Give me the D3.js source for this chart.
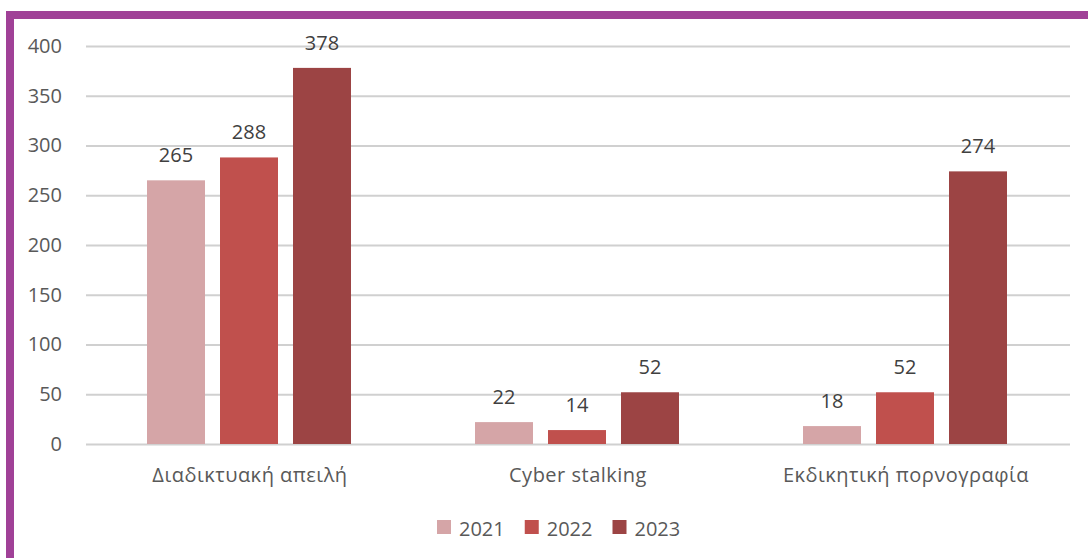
<!DOCTYPE html>
<html><head><meta charset="utf-8">
<script src="https://cdn.jsdelivr.net/npm/d3@7"></script>
<style>body{margin:0;background:#fff;} text{font-family:"Open Sans",sans-serif;}</style>
</head><body>
<svg id="c" width="1088" height="558"></svg>
<script>
const categories = ["Διαδικτυακή απειλή", "Cyber stalking", "Εκδικητική πορνογραφία"];
const seriesNames = ["2021", "2022", "2023"];
const values2021 = [265, 22, 18];
const values2022 = [288, 14, 52];
const values2023 = [378, 52, 274];
const yTicks = [0, 50, 100, 150, 200, 250, 300, 350, 400];
const colors = ["#D5A5A7", "#C0504D", "#9C4444"];

const series = [values2021, values2022, values2023];
const svg = d3.select("#c");

// purple frame
svg.append("rect").attr("x", 6).attr("y", 11).attr("width", 1082).attr("height", 8).attr("fill", "#A04197");
svg.append("rect").attr("x", 6).attr("y", 11).attr("width", 8).attr("height", 547).attr("fill", "#A04197");

const x0 = d3.scaleBand().domain(categories).range([86, 1070]).paddingInner(0).paddingOuter(0);
const x1 = d3.scaleBand().domain(seriesNames).range([0, x0.bandwidth()]).paddingInner(15 / 73).paddingOuter(62 / 73);
const y = d3.scaleLinear().domain([0, 400]).range([444, 46]);

const yAxis = d3.axisLeft(y).tickValues(yTicks).tickSize(-(1070 - 86)).tickPadding(24);
const ga = svg.append("g").attr("transform", "translate(86,0)").call(yAxis);
ga.select(".domain").remove();
ga.selectAll(".tick line").attr("stroke", "#D0D0D0").attr("stroke-width", 2);
ga.selectAll(".tick text").attr("fill", "#595959").style("font-size", "20px");

const groups = svg.append("g").selectAll("g").data(categories).join("g")
  .attr("transform", d => `translate(${x0(d) - 1},0)`);

groups.each(function(cat, ci) {
  const g = d3.select(this);
  seriesNames.forEach((s, si) => {
    const v = series[si][ci];
    g.append("rect").attr("x", x1(s)).attr("y", y(v)).attr("width", x1.bandwidth())
      .attr("height", y(0) - y(v)).attr("fill", colors[si]);
    g.append("text").attr("x", x1(s) + x1.bandwidth() / 2).attr("y", y(v) - 18)
      .attr("text-anchor", "middle").attr("fill", "#404040").style("font-size", "20px").text(v);
  });
  g.append("text").attr("x", x0.bandwidth() / 2 + 1).attr("y", 482).attr("text-anchor", "middle")
    .attr("fill", "#595959").style("font-size", "20px").style("letter-spacing", "0.5px").text(cat);
});

// legend
const lg = svg.append("g");
const items = lg.selectAll("g").data(seriesNames).join("g");
let cx = 437;
items.each(function(s, i) {
  const g = d3.select(this);
  g.append("rect").attr("x", cx).attr("y", 520).attr("width", 14).attr("height", 14).attr("fill", colors[i]);
  const t = g.append("text").attr("x", cx + 22).attr("y", 536).attr("fill", "#595959").style("font-size", "20px").text(s);
  cx += 22 + t.node().getComputedTextLength() + 20;
});
</script>
</body></html>
